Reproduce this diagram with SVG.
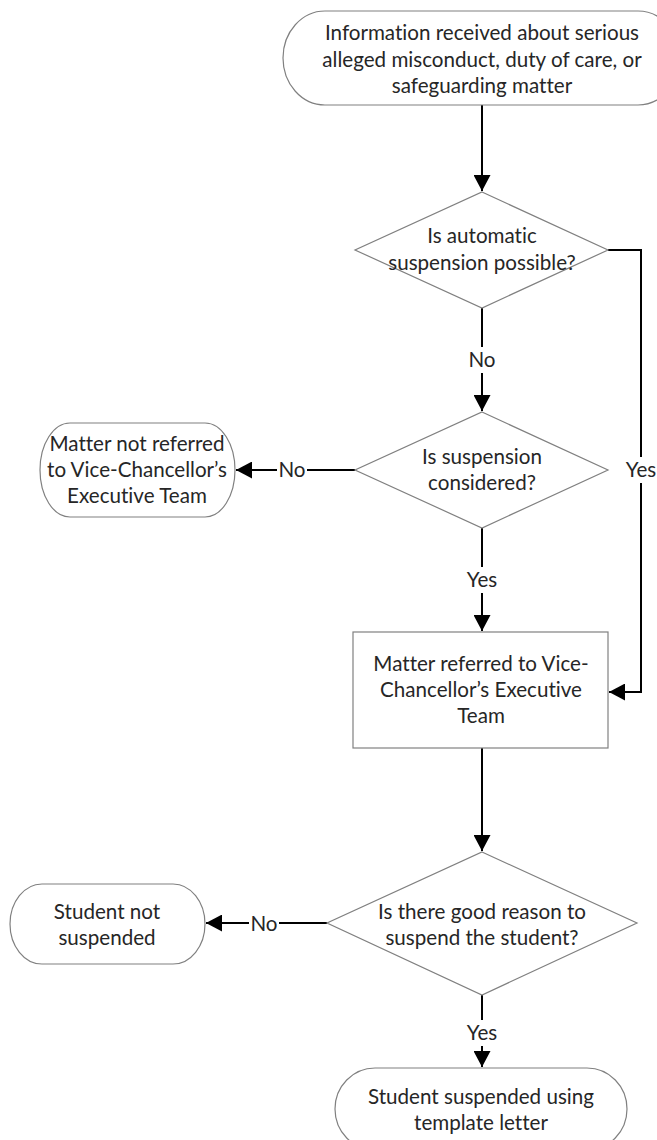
<svg xmlns="http://www.w3.org/2000/svg" width="657" height="1140" viewBox="0 0 657 1140">
<style>
.n{fill:#fff;stroke:#808080;stroke-width:1.2}
.t{font-family:Lato,"Liberation Sans",sans-serif;font-size:20.6px;fill:#262626;text-anchor:middle;font-variant-ligatures:none;font-feature-settings:"liga" 0,"clig" 0}
.c{fill:none;stroke:#000;stroke-width:2}
.lb{fill:#fff}
</style>
<defs>
<marker id="ah" markerUnits="userSpaceOnUse" markerWidth="17" markerHeight="17" refX="16" refY="8.5" orient="auto">
<path d="M0,0 L16,8.5 L0,17 z" fill="#000"/>
</marker>
</defs>
<g id="connectors">
<path class="c" d="M482,105 V191" marker-end="url(#ah)"/>
<path class="c" d="M482,308 V411" marker-end="url(#ah)"/>
<path class="c" d="M355,470 H236" marker-end="url(#ah)"/>
<path class="c" d="M482,528 V631" marker-end="url(#ah)"/>
<path class="c" d="M608,250 H641 V692 H609" marker-end="url(#ah)"/>
<path class="c" d="M482,748 V851" marker-end="url(#ah)"/>
<path class="c" d="M327,923 H206" marker-end="url(#ah)"/>
<path class="c" d="M482,995 V1067" marker-end="url(#ah)"/>
<rect class="lb" x="467" y="347" width="30" height="26"/>
<text class="t" x="482" y="367">No</text>
<rect class="lb" x="277" y="457" width="30" height="26"/>
<text class="t" x="292" y="477">No</text>
<rect class="lb" x="464" y="567" width="36" height="26"/>
<text class="t" x="482" y="587">Yes</text>
<rect class="lb" x="623" y="457" width="36" height="26"/>
<text class="t" x="641" y="477">Yes</text>
<rect class="lb" x="249" y="911" width="30" height="26"/>
<text class="t" x="264" y="931">No</text>
<rect class="lb" x="464" y="1020" width="36" height="26"/>
<text class="t" x="482" y="1040">Yes</text>
</g>
<g id="start">
<rect class="n" x="283" y="11" width="397" height="94" rx="42" ry="47"/>
<text class="t" x="482" y="40">Information received about serious</text>
<text class="t" x="482" y="67">alleged misconduct, duty of care, or</text>
<text class="t" x="482" y="93">safeguarding matter</text>
</g>
<g id="decision1">
<polygon class="n" points="482,192 608,250 482,308 355,250"/>
<text class="t" x="482" y="243">Is automatic</text>
<text class="t" x="482" y="270">suspension possible?</text>
</g>
<g id="decision2">
<polygon class="n" points="482,412 608,470 482,528 355,470"/>
<text class="t" x="482" y="464">Is suspension</text>
<text class="t" x="482" y="490">considered?</text>
</g>
<g id="notReferred">
<rect class="n" x="40" y="423" width="195" height="94" rx="30" ry="47"/>
<text class="t" x="137" y="451">Matter not referred</text>
<text class="t" x="137" y="477">to Vice-Chancellor’s</text>
<text class="t" x="137" y="503">Executive Team</text>
</g>
<g id="referred">
<rect class="n" x="353" y="632" width="255" height="116"/>
<text class="t" x="481" y="671">Matter referred to Vice-</text>
<text class="t" x="481" y="697">Chancellor’s Executive</text>
<text class="t" x="481" y="723">Team</text>
</g>
<g id="decision3">
<polygon class="n" points="482,852 637,923 482,995 327,923"/>
<text class="t" x="482" y="919">Is there good reason to</text>
<text class="t" x="482" y="945">suspend the student?</text>
</g>
<g id="notSuspended">
<rect class="n" x="10" y="884" width="195" height="80" rx="32" ry="40"/>
<text class="t" x="107" y="919">Student not</text>
<text class="t" x="107" y="945">suspended</text>
</g>
<g id="suspended">
<rect class="n" x="335" y="1068" width="292" height="82" rx="40" ry="41"/>
<text class="t" x="481" y="1104">Student suspended using</text>
<text class="t" x="481" y="1130">template letter</text>
</g>
</svg>
